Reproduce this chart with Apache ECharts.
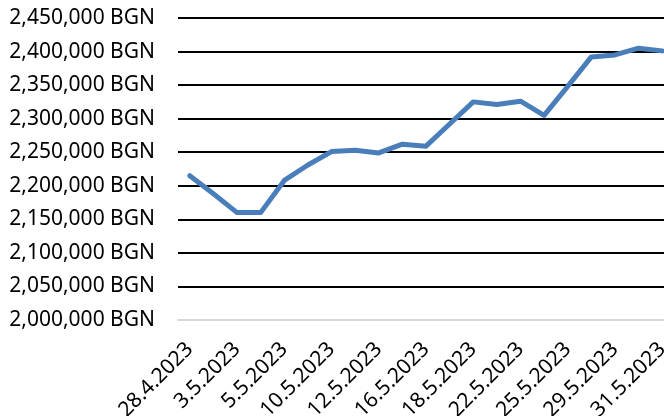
<!DOCTYPE html>
<html>
<head>
<meta charset="utf-8">
<script src="https://cdn.jsdelivr.net/npm/echarts@6/dist/echarts.min.js"></script>
<style>html,body{margin:0;padding:0;background:#fff;overflow:hidden}#c{width:664px;height:416px}</style>
</head>
<body>
<div id="c"></div>
<script>
const categories = ["28.4.2023","2.5.2023","3.5.2023","4.5.2023","5.5.2023","9.5.2023","10.5.2023","11.5.2023","12.5.2023","15.5.2023","16.5.2023","17.5.2023","18.5.2023","19.5.2023","22.5.2023","23.5.2023","25.5.2023","26.5.2023","29.5.2023","30.5.2023","31.5.2023"];
const values = [2215000,2188000,2160000,2160000,2208000,2231000,2251000,2253000,2249000,2262000,2259000,2292000,2325000,2321000,2326000,2305000,2348000,2392000,2395000,2405000,2401000];
const yMin = 2000000, yMax = 2450000, yStep = 50000;

const chart = echarts.init(document.getElementById('c'), null, {renderer:'canvas'});
const font = '"Noto Sans", sans-serif';
chart.setOption({
  animation: false,
  grid: {left: 178, width: 496, top: 18, height: 302, containLabel: false, outerBoundsMode: 'none'},
  xAxis: {
    type: 'category', data: categories, boundaryGap: true,
    axisLine: {show: true, lineStyle: {color: '#d9d9d9', width: 2}},
    axisTick: {show: false},
    axisLabel: {interval: 1, rotate: 45, margin: 26, color: '#000', fontFamily: font, fontSize: 21},
    splitLine: {show: false}
  },
  yAxis: {
    type: 'value', min: yMin, max: yMax, interval: yStep,
    axisLine: {show: false}, axisTick: {show: false},
    axisLabel: {margin: 23, color: '#000', fontFamily: font, fontSize: 21,
      formatter: v => v.toLocaleString('en-US') + ' BGN'},
    splitLine: {lineStyle: {color: '#000', width: 2}}
  },
  series: [{
    type: 'line', data: values, symbol: 'none', smooth: false,
    lineStyle: {color: '#4a7ebb', width: 5, cap: 'round', join: 'round'}
  }]
});
</script>
</body>
</html>
